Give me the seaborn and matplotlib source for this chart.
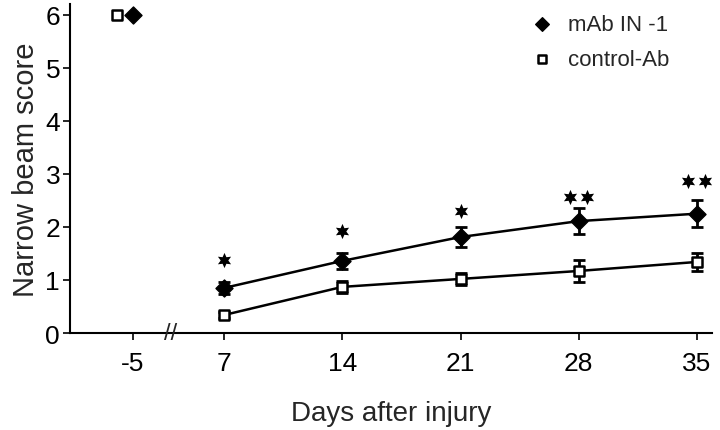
import numpy as np
import pandas as pd
import matplotlib
matplotlib.use("Agg")
import matplotlib.pyplot as plt
import seaborn as sns

# values
days = [-5, 7, 14, 21, 28, 35]
mab_mean = [6.0, 0.85, 1.36, 1.81, 2.11, 2.25]
mab_err = [0.0, 0.12, 0.15, 0.19, 0.24, 0.25]
ctrl_mean = [6.0, 0.34, 0.87, 1.02, 1.17, 1.34]
ctrl_err = [0.0, 0.05, 0.12, 0.12, 0.20, 0.17]
star_days = [7, 14, 21, 28, 35]
star_y = [1.37, 1.92, 2.30, 2.57, 2.87]
star_n = [1, 1, 1, 2, 2]
tick_labels = ["-5", "7", "14", "21", "28", "35"]


def xpos(d):
    # broken axis: pre-injury day sits left of the break
    return d if d >= 7 else 1.6


sns.set_theme(style="ticks")
plt.rcParams["font.family"] = ["Liberation Sans", "DejaVu Sans"]

fig = plt.figure(figsize=(7.2, 4.31), dpi=100)
ax = fig.add_axes([0.097, 0.225, 0.892, 0.763])

xs = np.array([xpos(d) for d in days])
df = pd.DataFrame({"x": np.concatenate([xs, xs]),
                   "y": mab_mean + ctrl_mean,
                   "grp": ["mAb IN -1"] * 6 + ["control-Ab"] * 6})
post = df[df.x >= 7]

sns.lineplot(data=post, x="x", y="y", hue="grp", palette=["black", "black"],
             linewidth=1.8, legend=False, ax=ax, zorder=2)

ax.errorbar(xs[1:], mab_mean[1:], yerr=mab_err[1:], fmt="none", ecolor="black",
            elinewidth=2, capsize=4, capthick=2, zorder=3)
ax.errorbar(xs[1:], ctrl_mean[1:], yerr=ctrl_err[1:], fmt="none", ecolor="black",
            elinewidth=2, capsize=4, capthick=2, zorder=3)

# control squares at day -5 are nudged left so both are visible
ctrl_x = xs.copy()
ctrl_x[0] = ctrl_x[0] - 0.95
ax.scatter(xs, mab_mean, marker="D", s=75, color="black", zorder=4,
           label="mAb IN -1")
ax.scatter(ctrl_x, ctrl_mean, marker="s", s=60, facecolor="white",
           edgecolor="black", linewidth=1.8, zorder=4, label="control-Ab")

for d, y, n in zip(star_days, star_y, star_n):
    offs = [0.0] if n == 1 else [-0.5, 0.5]
    for o in offs:
        ax.scatter(xpos(d) + o, y, marker=(6, 1, 0), s=120, color="black",
                   linewidth=0, zorder=4)

ax.set_xlim(-2.14, 35.9)
ax.set_ylim(0, 6.2)
ax.set_xticks(xs)
ax.set_xticklabels(tick_labels)
ax.set_yticks(range(7))
ax.tick_params(axis="both", labelsize=19, length=5, width=1.2, colors="black")
ax.tick_params(axis="x", pad=8)
ax.tick_params(axis="y", pad=2)
for s in ["top", "right"]:
    ax.spines[s].set_visible(False)
for s in ["left", "bottom"]:
    ax.spines[s].set_linewidth(1.5)
    ax.spines[s].set_color("black")

ax.set_xlabel("Days after injury", fontsize=20, labelpad=18)
ax.set_ylabel("Narrow beam score", fontsize=21, labelpad=4)

# axis break mark
ax.text(3.8, 0, "//", fontsize=17, ha="center", va="center",
        transform=ax.transData, clip_on=False)

leg = ax.legend(loc="upper right", bbox_to_anchor=(0.965, 1.03), frameon=False,
                fontsize=16, handletextpad=0.2, labelspacing=0.6,
                scatterpoints=1, markerscale=0.8)

fig.savefig("out.png", dpi=100)
